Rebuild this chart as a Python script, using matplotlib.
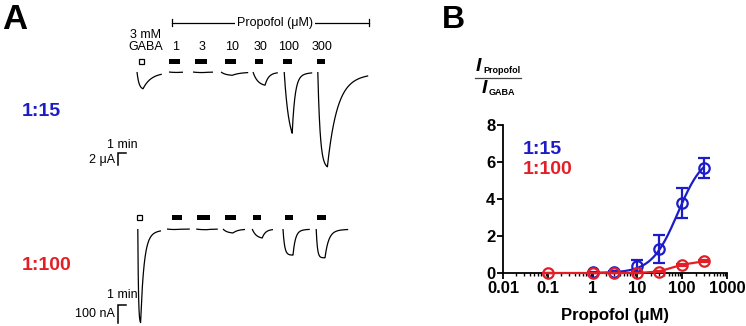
import numpy as np
import matplotlib
matplotlib.use('Agg')
import matplotlib.pyplot as plt
from matplotlib.lines import Line2D
from matplotlib.ticker import LogLocator, FuncFormatter, NullFormatter, FixedLocator

W, H = 746, 326
BLUE = '#1c1cc8'
RED = '#e41e26'

plt.rcParams['font.family'] = ['Liberation Sans', 'DejaVu Sans']

# ---------------- panel A: example current traces ----------------
conc_labels = ['1', '3', '10', '30', '100', '300']

# 1:15 oocytes, currents in uA, time in min (first entry = 3 mM GABA)
top_start = [0.0, 4.0, 7.0, 10.5, 14.5, 18.4, 22.6]
top_end = [3.1, 5.75, 9.5, 13.9, 17.6, 21.9, 28.9]
top_tpeak = [0.75, 1.0, 1.2, 1.4, 1.5, 1.0, 1.2]
top_amp = [2.8, 0.08, 0.1, 0.55, 2.2, 10.2, 15.8]
top_tau_rise = [0.25, 0.5, 0.5, 0.6, 0.6, 0.6, 0.3]
top_tau_decay = [1.0, 0.8, 0.8, 1.0, 0.45, 0.35, 1.2]
top_bar_on = [0.25, 4.0, 7.25, 11.0, 14.75, 18.25, 22.5]
top_bar_off = [0.875, 5.375, 8.75, 12.375, 15.75, 19.375, 23.5]

# 1:100 oocytes, currents in nA
bot_start = [0.1, 3.75, 7.4, 10.75, 14.4, 18.25, 22.4]
bot_end = [3.0, 6.6, 10.1, 13.5, 17.0, 21.6, 26.4]
bot_tpeak = [0.35, 1.0, 1.2, 1.25, 1.25, 1.25, 1.1]
bot_amp = [520, 3, 4, 22, 50, 145, 160]
bot_tau_rise = [0.08, 0.5, 0.5, 0.5, 0.5, 0.2, 0.15]
bot_tau_decay = [0.42, 0.8, 0.8, 0.6, 0.4, 0.3, 0.45]
bot_bar_on = [0.0, 4.375, 7.5, 11.0, 14.5, 18.5, 22.5]
bot_bar_off = [0.625, 5.625, 9.125, 12.375, 15.5, 19.5, 23.6]

# ---------------- panel B: concentration-response ----------------
conc_115 = [1, 3, 10, 30, 100, 300]
ratio_115 = [0.04, 0.08, 0.38, 1.28, 3.77, 5.66]
sem_115 = [0.03, 0.04, 0.3, 0.75, 0.8, 0.55]

conc_1100 = [0.1, 1, 3, 10, 30, 100, 300]
ratio_1100 = [0.0, 0.0, 0.0, 0.0, 0.08, 0.45, 0.63]
sem_1100 = [0.01, 0.01, 0.01, 0.02, 0.04, 0.06, 0.05]

# Hill fit for 1:15
hill_max, hill_ec50, hill_n = 6.5, 80.0, 1.5


def fx(x):
    return x / W


def fy(y):
    return 1 - y / H


def rect(x0, y0, x1, y1):
    return [x0 / W, 1 - y1 / H, (x1 - x0) / W, (y1 - y0) / H]


def response(t0, t1, tp, amp, tr, td, n=400):
    # rise during application, bi-exponential washout afterwards
    t = np.linspace(0, t1 - t0, n)
    rise = (1 - np.exp(-t / tr)) / (1 - np.exp(-tp / tr))
    dt = np.clip(t - tp, 0, None)
    decay = 0.92 * np.exp(-dt / td) + 0.08 * np.exp(-dt / (4 * td))
    y = np.where(t <= tp, rise, decay)
    return t0 + t, -amp * y


fig = plt.figure(figsize=(W / 100, H / 100), dpi=100)

# time axis shared by both rows: 8 px per min, t=0 at x=137 px
PX_MIN, X0 = 8.0, 137.0
AX_X0, AX_X1 = 95, 380


def trace_axes(y_top, y_bot, base_px, px_per_unit):
    ax = fig.add_axes(rect(AX_X0, y_top, AX_X1, y_bot))
    ax.set_xlim((AX_X0 - X0) / PX_MIN, (AX_X1 - X0) / PX_MIN)
    ax.set_ylim((base_px - y_bot) / px_per_unit, (base_px - y_top) / px_per_unit)
    ax.axis('off')
    return ax


def draw_row(ax, starts, ends, tps, amps, trs, tds, bar_on, bar_off, bar_y, bar_h):
    for t0, t1, tp, a, tr, td in zip(starts, ends, tps, amps, trs, tds):
        t, y = response(t0, t1, tp, a, tr, td)
        ax.plot(t, y, color='black', lw=0.9, solid_capstyle='butt')
    # open square = GABA, filled bars = propofol
    ax.bar(bar_on[0], bar_h, width=bar_off[0] - bar_on[0], bottom=bar_y, align='edge',
           facecolor='white', edgecolor='black', linewidth=0.9)
    for a, b in zip(bar_on[1:], bar_off[1:]):
        ax.bar(a, bar_h, width=b - a, bottom=bar_y, align='edge', color='black', linewidth=0)


# top row: baseline at 72 px, 6 px per uA
axt = trace_axes(10, 172, 72, 6.0)
draw_row(axt, top_start, top_end, top_tpeak, top_amp, top_tau_rise, top_tau_decay,
         top_bar_on, top_bar_off, (72 - 64) / 6.0, 5 / 6.0)

# header bracket
hy = (72 - 22.7) / 6.0
h0, h1 = (172 - X0) / PX_MIN, (369 - X0) / PX_MIN
axt.plot([h0, h1], [hy, hy], color='black', lw=0.9)
for hx in (h0, h1):
    axt.plot([hx, hx], [hy - 0.55, hy + 0.55], color='black', lw=0.9)
axt.text((275 - X0) / PX_MIN, hy, 'Propofol (μM)', ha='center', va='center', fontsize=9,
         bbox=dict(facecolor='white', edgecolor='none', pad=1.5))
for lab, a, b in zip(conc_labels, top_bar_on[1:], top_bar_off[1:]):
    axt.text((a + b) / 2 + 0.15, (72 - 53) / 6.0, lab, ha='center', va='bottom', fontsize=9)
axt.text((146 - X0) / PX_MIN, (72 - 53) / 6.0, '3 mM\nGABA', ha='center', va='bottom',
         fontsize=9, linespacing=1.05)

# scale bar 1 min / 2 uA
sx = (118 - X0) / PX_MIN
sy = (72 - 153) / 6.0
axt.plot([sx + 1, sx, sx], [sy, sy, sy - 2], color='black', lw=1.1, solid_joinstyle='miter')
axt.text(sx + 0.5, sy + 0.3, '1 min', ha='center', va='bottom', fontsize=9)
axt.text(sx - 0.35, sy - 1.1, '2 μA', ha='right', va='center', fontsize=9)

# bottom row: baseline at 229 px, 0.18 px per nA
axb = trace_axes(200, 326, 229, 0.18)
draw_row(axb, bot_start, bot_end, bot_tpeak, bot_amp, bot_tau_rise, bot_tau_decay,
         bot_bar_on, bot_bar_off, (229 - 220) / 0.18, 5 / 0.18)
sy = (229 - 305) / 0.18
axb.plot([sx + 1, sx, sx], [sy, sy, sy - 100], color='black', lw=1.1, solid_joinstyle='miter')
axb.text(sx + 0.5, sy + 20, '1 min', ha='center', va='bottom', fontsize=9)
axb.text(sx - 0.35, sy - 50, '100 nA', ha='right', va='center', fontsize=9)

fig.text(fx(2), fy(3), 'A', fontsize=25, fontweight='bold', ha='left', va='top')
fig.text(fx(22), fy(112), '1:15', color=BLUE, fontsize=14, fontweight='bold', va='center')
fig.text(fx(22), fy(266), '1:100', color=RED, fontsize=14, fontweight='bold', va='center')

# ---------------- panel B ----------------
ax = fig.add_axes(rect(503, 125, 727, 273))
ax.set_xscale('log')
ax.set_xlim(0.01, 1000)
ax.set_ylim(0, 8)

x_fit = np.logspace(0, np.log10(300), 200)
y_fit = hill_max / (1 + (hill_ec50 / x_fit) ** hill_n)
ax.plot(x_fit, y_fit, color=BLUE, lw=1.6, zorder=3)
ax.errorbar(conc_115, ratio_115, yerr=sem_115, fmt='o', ms=7.5, mfc='none', mec=BLUE,
            mew=1.6, ecolor=BLUE, elinewidth=1.6, capsize=4, capthick=1.6,
            clip_on=False, zorder=4)
ax.errorbar(conc_1100, ratio_1100, yerr=sem_1100, fmt='-o', color=RED, lw=1.6, ms=7.5,
            mfc='none', mec=RED, mew=1.6, ecolor=RED, elinewidth=1.6, capsize=4,
            capthick=1.6, clip_on=False, zorder=5)

for s in ('top', 'right'):
    ax.spines[s].set_visible(False)
for s in ('left', 'bottom'):
    ax.spines[s].set_linewidth(1.3)
ax.yaxis.set_major_locator(FixedLocator([0, 2, 4, 6, 8]))
ax.xaxis.set_major_locator(LogLocator(base=10, numticks=10))
ax.xaxis.set_minor_locator(LogLocator(base=10, subs=np.arange(2, 10), numticks=20))
ax.xaxis.set_major_formatter(FuncFormatter(lambda v, p: f'{v:g}'))
ax.xaxis.set_minor_formatter(NullFormatter())
ax.tick_params(axis='both', which='major', direction='out', length=4, width=1.3,
               labelsize=12, pad=1.5)
ax.tick_params(axis='x', which='minor', direction='out', length=2.5, width=1.0)
for lab in ax.get_xticklabels() + ax.get_yticklabels():
    lab.set_fontweight('bold')
ax.set_xlabel('Propofol (μM)', fontsize=12, fontweight='bold', labelpad=9)

# ratio label as a stacked fraction
fig.text(fx(476), fy(71), 'I', fontsize=14, fontweight='bold', fontstyle='italic', va='baseline')
fig.text(fx(483), fy(73), 'Propofol', fontsize=6.5, fontweight='bold', va='baseline')
fig.add_artist(Line2D([fx(475), fx(521)], [fy(77.5), fy(77.5)], color='#444444', lw=0.9))
fig.text(fx(482), fy(93), 'I', fontsize=14, fontweight='bold', fontstyle='italic', va='baseline')
fig.text(fx(489), fy(95), 'GABA', fontsize=6.5, fontweight='bold', va='baseline')

fig.text(fx(523), fy(149), '1:15', color=BLUE, fontsize=14, fontweight='bold', va='center')
fig.text(fx(523), fy(169), '1:100', color=RED, fontsize=14, fontweight='bold', va='center')
fig.text(fx(442), fy(5), 'B', fontsize=23, fontweight='bold', ha='left', va='top')

fig.savefig('out.png', dpi=100)
